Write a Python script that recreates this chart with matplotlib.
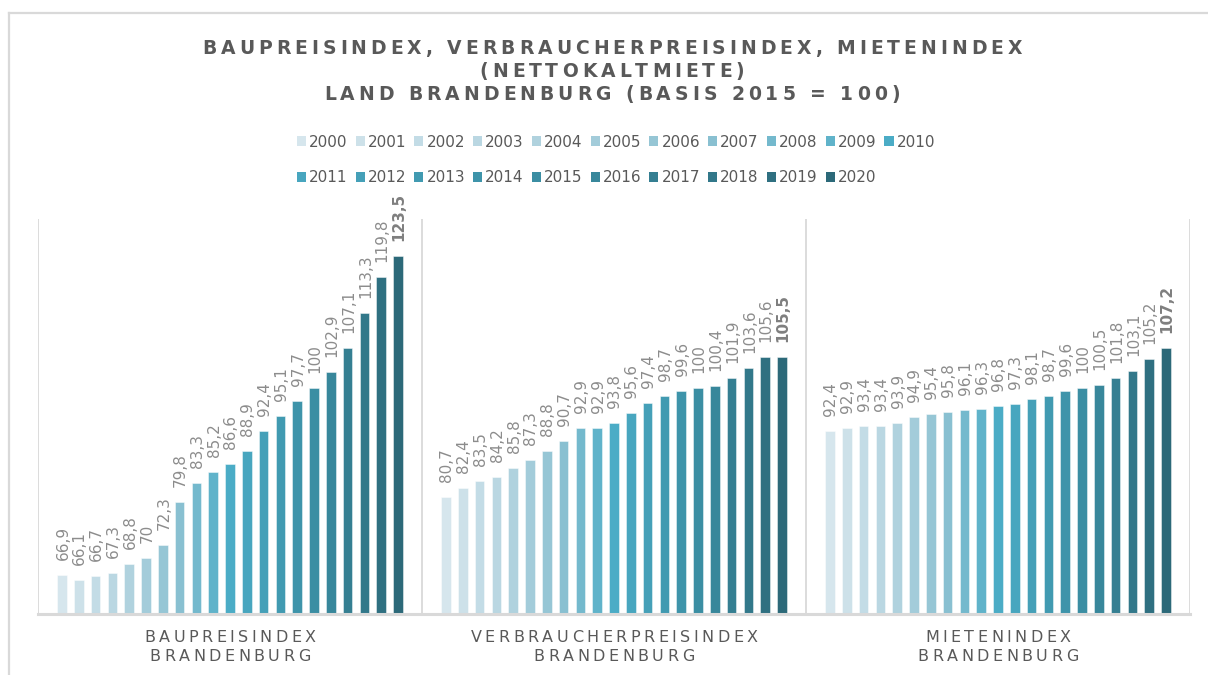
import numpy as np
import matplotlib
matplotlib.use("Agg")
import matplotlib.pyplot as plt
from matplotlib.patches import Patch
from matplotlib.lines import Line2D
from matplotlib.colors import to_rgb
from matplotlib.font_manager import FontProperties, findfont, get_font

# ---------------- data ----------------
years = [str(y) for y in range(2000, 2021)]
categories = [["BAUPREISINDEX", "BRANDENBURG"],
              ["VERBRAUCHERPREISINDEX", "BRANDENBURG"],
              ["MIETENINDEX", "BRANDENBURG"]]
baupreis = [66.9, 66.1, 66.7, 67.3, 68.8, 70, 72.3, 79.8, 83.3, 85.2, 86.6,
            88.9, 92.4, 95.1, 97.7, 100, 102.9, 107.1, 113.3, 119.8, 123.5]
verbraucher = [80.7, 82.4, 83.5, 84.2, 85.8, 87.3, 88.8, 90.7, 92.9, 92.9, 93.8,
               95.6, 97.4, 98.7, 99.6, 100, 100.4, 101.9, 103.6, 105.6, 105.5]
mieten = [92.4, 92.9, 93.4, 93.4, 93.9, 94.9, 95.4, 95.8, 96.1, 96.3, 96.8,
          97.3, 98.1, 98.7, 99.6, 100, 100.5, 101.8, 103.1, 105.2, 107.2]
title_lines = ["BAUPREISINDEX, VERBRAUCHERPREISINDEX, MIETENINDEX",
               "(NETTOKALTMIETE)",
               "LAND BRANDENBURG (BASIS 2015 = 100)"]

series = np.array([baupreis, verbraucher, mieten]).T  # shape (21, 3)

# ---------------- colours ----------------
stops = [(0, "#d6e6ed"), (4, "#b0d2de"), (7, "#89c0d1"), (10, "#4bacc6"),
         (15, "#3b8ea3"), (20, "#2c6979")]
def color_at(i):
    for (a, ca), (b, cb) in zip(stops[:-1], stops[1:]):
        if a <= i <= b:
            t = (i - a) / (b - a)
            ra, rb = np.array(to_rgb(ca)), np.array(to_rgb(cb))
            return tuple(ra + (rb - ra) * t)
    return to_rgb(stops[-1][1])
colors = [color_at(i) for i in range(len(years))]

W, H = 1208, 675
fig = plt.figure(figsize=(W / 100, H / 100), dpi=100)
fig.patch.set_facecolor("white")

# outer frame
fig.add_artist(Line2D([9 / W, 9 / W], [0, 1 - 13 / H], color="#d9d9d9", lw=1.6, transform=fig.transFigure))
fig.add_artist(Line2D([9 / W, 1], [1 - 13 / H, 1 - 13 / H], color="#d9d9d9", lw=1.6, transform=fig.transFigure))

ax = fig.add_axes([38 / W, 61 / H, (1190 - 38) / W, (614 - 219) / H])
ax.set_xlim(-0.5, 2.5)
ax.set_ylim(60, 130)
for s in ax.spines.values():
    s.set_visible(False)
ax.set_xticks([])
ax.set_yticks([])

grid_c = "#d9d9d9"
for xv in [-0.5, 0.5, 1.5, 2.5]:
    ax.axvline(xv, color=grid_c, lw=1.3, zorder=0)
ax.axhline(60, color=grid_c, lw=2.2, zorder=3, clip_on=False)

pitch = 16.8 / 384
bw = 9.6 / 384
n = len(years)
xg = np.arange(3)
for i in range(n):
    xs = xg + (i - (n - 1) / 2) * pitch
    ax.bar(xs, series[i], width=bw, color=colors[i],
           edgecolor=(1, 1, 1, 0.45), linewidth=0.7, zorder=2)
    for x, v in zip(xs, series[i]):
        lab = f"{v:g}".replace(".", ",")
        last = (i == n - 1)
        ax.annotate(lab, xy=(x, v), xytext=(1, 15), textcoords="offset pixels",
                    rotation=90, ha="center", va="bottom", fontsize=11,
                    color="#7f7f7f" if last else "#8c8c8c",
                    fontweight="bold" if last else "normal",
                    annotation_clip=False)

# ---------------- letter-spaced text helper ----------------
def spaced(x_px, base_px, s, size, spacing, weight="normal", color="#595959"):
    prop = FontProperties(family="DejaVu Sans", size=size, weight=weight)
    font = get_font(findfont(prop))
    font.set_size(size, fig.dpi)
    advs = [font.load_char(ord(ch)).linearHoriAdvance / 65536 for ch in s]
    total = sum(advs) + spacing * (len(s) - 1)
    x = x_px - total / 2
    for ch, a in zip(s, advs):
        if ch != " ":
            fig.text((x + a / 2) / W, 1 - base_px / H, ch, fontproperties=prop,
                     color=color, ha="center", va="baseline")
        x += a + spacing

# title
for line, base in zip(title_lines, [54, 77, 100]):
    spaced(612, base, line, 13.5, 4.0, weight="bold", color="#595959")

# category labels
cx0 = 38
for k, (l1, l2) in enumerate(categories):
    cx = cx0 + 384 * (k + 0.5)
    spaced(cx, 642, l1, 11.5, 3.5, color="#595959")
    spaced(cx, 661, l2, 11.5, 3.5, color="#595959")

# ---------------- legend ----------------
handles = [Patch(facecolor=colors[i], edgecolor="none") for i in range(n)]
order = []
for c in range(10):
    order += [c, c + 11]
order += [10]
leg = fig.legend([handles[i] for i in order], [years[i] for i in order],
                 ncol=11, loc="center", bbox_to_anchor=(616 / W, 1 - 160 / H),
                 frameon=False, fontsize=11, handlelength=0.6, handleheight=0.6,
                 handletextpad=0.2, columnspacing=0.52, labelspacing=1.35,
                 borderaxespad=0, borderpad=0)
for t in leg.get_texts():
    t.set_color("#595959")

fig.savefig("out.png", dpi=100, facecolor="white")
